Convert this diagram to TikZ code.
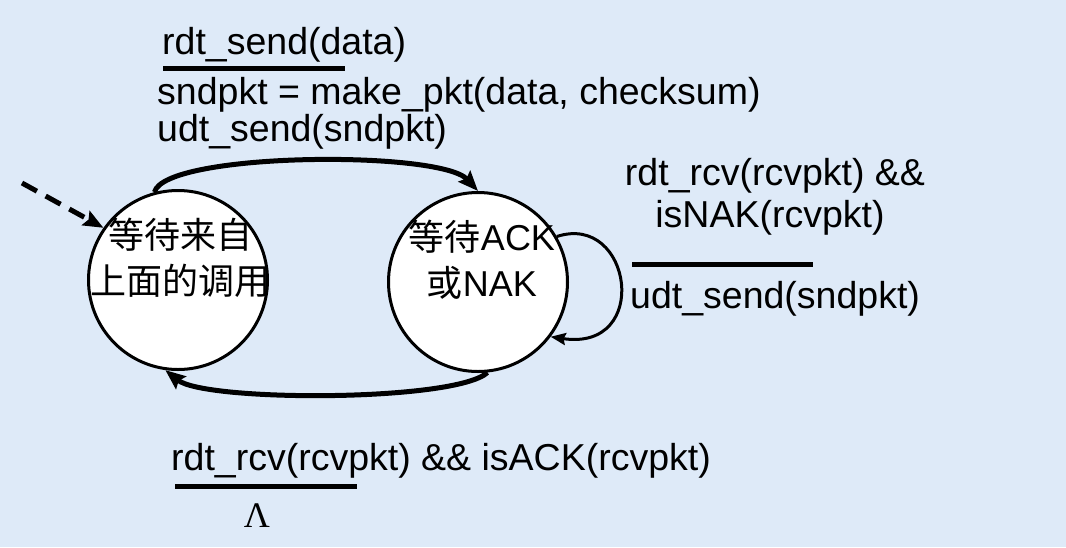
\documentclass[tikz,border=0pt]{standalone}
\usepackage{fontspec}
\setmainfont{Liberation Sans}
\newfontfamily\cjk{Noto Sans CJK SC}
\newfontfamily\greekserif{Liberation Serif}
\usepackage{xcolor}
\usepackage{tikz}
\usetikzlibrary{arrows.meta}
\definecolor{bgblue}{RGB}{222,234,248}

\begin{document}
\begin{tikzpicture}[x=1pt,y=-1pt,
  state/.style={circle,draw,line width=3pt,fill=white,minimum size=179pt,inner sep=0pt},
  statetxt/.style={align=center,inner sep=0pt,font=\fontsize{36}{46}\selectfont},
  lbl/.style={font=\fontsize{37.5}{46}\selectfont,inner sep=0pt},
  trans/.style={line width=5pt,-{Stealth[length=20pt,width=16pt,inset=3pt]}},
  selftrans/.style={line width=3pt,-{Stealth[length=15pt,width=12pt,inset=2pt]}},
  guard/.style={line width=5pt}]

% Background
\fill[bgblue] (0,0) rectangle (1066,547);

% States
\node[state] (wait0) at (178,280) {};
\node[statetxt,font=\fontsize{36}{46}\selectfont\cjk] (wait0txt) at (180,258) {等待来自\\上面的调用};

\node[state] (waitack) at (478,282) {};
\node[statetxt] (waitacktxt) at (482,260) {{\cjk 等待}ACK\\{\cjk 或}NAK};

% Initial arrow
\coordinate (init) at (22,183);
\draw[trans,dash pattern=on 17pt off 10pt] (init) -- (wait0.145);

% Transitions
\draw[trans] (wait0.105) .. controls (165,152) and (440,150) .. (waitack.90);
\draw[trans] (waitack.-84) .. controls (455,402) and (205,402) .. (wait0.-98);
\draw[selftrans] (waitack.30) .. controls (632,212) and (652,352) .. (waitack.-37);

% Top label
\node[lbl,anchor=base west] (sendev) at (162,54) {rdt\_send(data)};
\draw[guard] (163,68.5) -- (345,68.5);
\node[lbl,anchor=base west] (sendact1) at (157,104) {sndpkt = make\_pkt(data, checksum)};
\node[lbl,anchor=base west] (sendact2) at (157,141) {udt\_send(sndpkt)};

% Right label
\node[lbl,anchor=base] (nakev1) at (775,185) {rdt\_rcv(rcvpkt) \&\&};
\node[lbl,anchor=base] (nakev2) at (770,227) {isNAK(rcvpkt)};
\draw[guard] (632,264.5) -- (813,264.5);
\node[lbl,anchor=base west] (nakact) at (630,308) {udt\_send(sndpkt)};

% Bottom label
\node[lbl,anchor=base west] (ackev) at (171,470) {rdt\_rcv(rcvpkt) \&\& isACK(rcvpkt)};
\draw[guard] (175,486) -- (357,486);
\node[lbl,anchor=base,font=\fontsize{36}{46}\selectfont\greekserif] (ackact) at (257,527) {Λ};

\end{tikzpicture}
\end{document}
